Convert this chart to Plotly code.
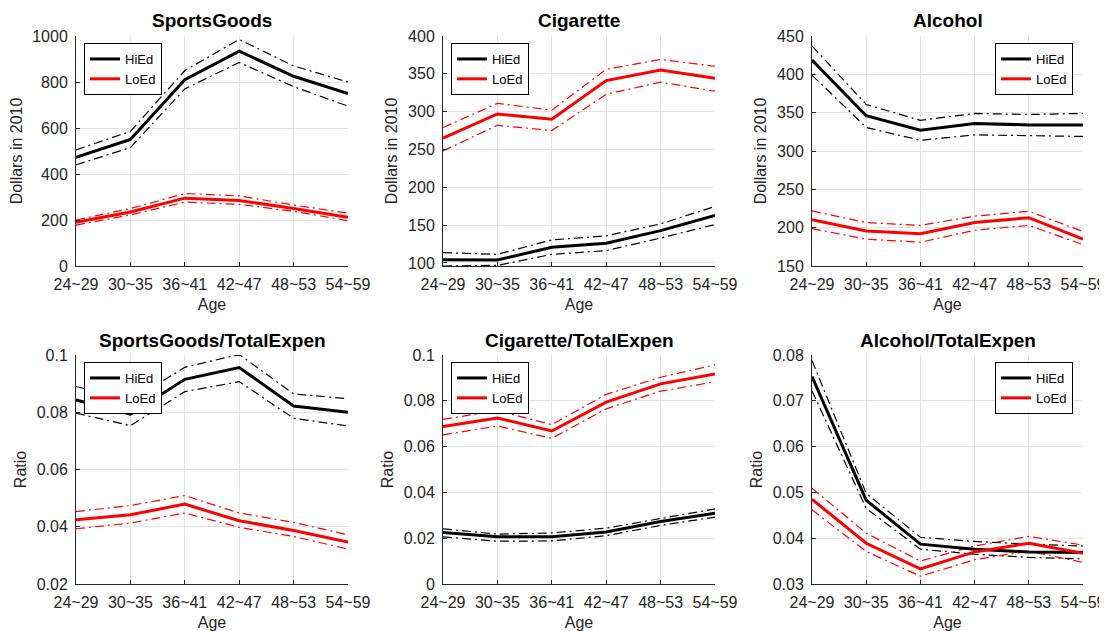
import plotly.graph_objects as go

ages = ["24~29", "30~35", "36~41", "42~47", "48~53", "54~59"]

# SportsGoods (dollars)
sg_hi_mean = [472, 550, 810, 934, 825, 750]
sg_hi_up = [505, 585, 850, 985, 870, 800]
sg_hi_lo = [440, 515, 770, 885, 780, 695]
sg_lo_mean = [190, 235, 295, 285, 250, 212]
sg_lo_up = [200, 250, 315, 305, 265, 230]
sg_lo_lo = [178, 222, 278, 268, 238, 197]

# Cigarette (dollars)
cg_hi_mean = [104.4, 104, 120.7, 126, 142.8, 162.7]
cg_hi_up = [113.7, 111.4, 130.5, 135.8, 151.7, 174.7]
cg_hi_lo = [96, 96.8, 111.4, 116.3, 133, 150.8]
cg_lo_mean = [265, 297, 290, 341, 355, 344]
cg_lo_up = [279, 311, 302, 356, 369, 360]
cg_lo_lo = [248, 282, 275, 323, 339, 327]

# Alcohol (dollars)
al_hi_mean = [418.6, 346, 327, 336, 334, 334]
al_hi_up = [437, 360.7, 340, 349, 347.6, 349]
al_hi_lo = [399, 330.7, 314, 321, 320, 319]
al_lo_mean = [210.5, 195.7, 192, 206.6, 213, 185]
al_lo_up = [221.8, 206.6, 203, 215, 221.4, 195]
al_lo_lo = [198.8, 185, 181, 196.6, 203, 177.9]

# SportsGoods / TotalExpen (ratio)
sgr_hi_mean = [0.0843, 0.0793, 0.0915, 0.0956, 0.0822, 0.0800]
sgr_hi_up = [0.0890, 0.0840, 0.0957, 0.1002, 0.0864, 0.0847]
sgr_hi_lo = [0.0797, 0.0753, 0.0872, 0.0907, 0.0779, 0.0752]
sgr_lo_mean = [0.0424, 0.0442, 0.0479, 0.0421, 0.0387, 0.0347]
sgr_lo_up = [0.0453, 0.0474, 0.0509, 0.0448, 0.0415, 0.0372]
sgr_lo_lo = [0.0393, 0.0413, 0.0448, 0.0398, 0.0366, 0.0322]

# Cigarette / TotalExpen (ratio)
cgr_hi_mean = [0.0225, 0.0206, 0.0206, 0.0227, 0.0273, 0.0309]
cgr_hi_up = [0.0241, 0.0218, 0.0223, 0.0244, 0.0286, 0.0328]
cgr_hi_lo = [0.0206, 0.0187, 0.0188, 0.0211, 0.0256, 0.0292]
cgr_lo_mean = [0.0688, 0.0725, 0.0668, 0.0794, 0.0874, 0.0917]
cgr_lo_up = [0.0719, 0.0757, 0.0696, 0.0828, 0.0903, 0.0957]
cgr_lo_lo = [0.0651, 0.0690, 0.0636, 0.0765, 0.0842, 0.0883]

# Alcohol / TotalExpen (ratio)
alr_hi_mean = [0.0753, 0.0483, 0.0387, 0.0376, 0.0370, 0.0369]
alr_hi_up = [0.0788, 0.0498, 0.0402, 0.0393, 0.0387, 0.0383]
alr_hi_lo = [0.0722, 0.0465, 0.0376, 0.0365, 0.0358, 0.0355]
alr_lo_mean = [0.0485, 0.0389, 0.0333, 0.0370, 0.0389, 0.0367]
alr_lo_up = [0.0509, 0.0411, 0.0350, 0.0383, 0.0404, 0.0385]
alr_lo_lo = [0.0462, 0.0371, 0.0317, 0.0353, 0.0372, 0.0347]

titles = ["SportsGoods", "Cigarette", "Alcohol",
          "SportsGoods/TotalExpen", "Cigarette/TotalExpen", "Alcohol/TotalExpen"]
ylabels = ["Dollars in 2010"] * 3 + ["Ratio"] * 3
panels = [
    (sg_hi_mean, sg_hi_up, sg_hi_lo, sg_lo_mean, sg_lo_up, sg_lo_lo),
    (cg_hi_mean, cg_hi_up, cg_hi_lo, cg_lo_mean, cg_lo_up, cg_lo_lo),
    (al_hi_mean, al_hi_up, al_hi_lo, al_lo_mean, al_lo_up, al_lo_lo),
    (sgr_hi_mean, sgr_hi_up, sgr_hi_lo, sgr_lo_mean, sgr_lo_up, sgr_lo_lo),
    (cgr_hi_mean, cgr_hi_up, cgr_hi_lo, cgr_lo_mean, cgr_lo_up, cgr_lo_lo),
    (alr_hi_mean, alr_hi_up, alr_hi_lo, alr_lo_mean, alr_lo_up, alr_lo_lo),
]
yranges = [[0, 1000], [96, 400], [150, 450], [0.02, 0.1], [0, 0.1], [0.03, 0.08]]
ydticks = [200, 50, 50, 0.02, 0.02, 0.01]
ytick0 = [0, 100, 150, 0.02, 0, 0.03]

# page body margin (8px) offsets the figure inside the 1107x631 window
OFF = 8
W, H = 1107 - OFF, 631 - OFF
xdoms_px = [(76, 348), (443, 715), (812, 1083)]   # window pixels
ydoms_px = [(36, 266), (355, 584)]
legend_pos = ["left", "left", "right", "left", "left", "right"]


def fx(px):
    return (px - OFF) / W


def fy(py):
    return 1 - (py - OFF) / H


FONT = "Liberation Sans, Arial, Helvetica, sans-serif"
AX = "#262626"
GRID = "#e3e3e3"
DASHDOT = "9px,4px,2px,4px"

fig = go.Figure()
layout = {}
annotations = []

for i, (hm, hu, hl, lm, lu, ll) in enumerate(panels):
    r, c = divmod(i, 3)
    xa = "x" if i == 0 else f"x{i+1}"
    ya = "y" if i == 0 else f"y{i+1}"
    leg = "legend" if i == 0 else f"legend{i+1}"
    for name, color, m, u, l in [("HiEd", "#000000", hm, hu, hl),
                                 ("LoEd", "#ff0000", lm, lu, ll)]:
        for vals in (u, l):
            fig.add_trace(go.Scatter(x=ages, y=vals, mode="lines", xaxis=xa, yaxis=ya,
                                     line=dict(color=color, width=1.2, dash=DASHDOT),
                                     showlegend=False, hoverinfo="skip"))
    for name, color, m in [("HiEd", "#000000", hm), ("LoEd", "#ff0000", lm)]:
        fig.add_trace(go.Scatter(x=ages, y=m, mode="lines", name=name, xaxis=xa, yaxis=ya,
                                 line=dict(color=color, width=3), legend=leg,
                                 showlegend=True))

    x0, x1 = xdoms_px[c]
    y0, y1 = ydoms_px[r]
    xkey = "xaxis" if i == 0 else f"xaxis{i+1}"
    ykey = "yaxis" if i == 0 else f"yaxis{i+1}"
    layout[xkey] = dict(
        domain=[fx(x0), fx(x1)], anchor=ya, type="category", range=[0, 5],
        automargin=False,
        showgrid=True, gridcolor=GRID, gridwidth=1,
        showline=True, linecolor=AX, linewidth=1, mirror=False,
        ticks="inside", ticklen=4, tickcolor=AX, ticklabelstandoff=4,
        tickfont=dict(family=FONT, size=16, color=AX),
        title=dict(text="Age", font=dict(family=FONT, size=16, color=AX), standoff=6),
        zeroline=False, fixedrange=True,
    )
    layout[ykey] = dict(
        domain=[fy(y1), fy(y0)], anchor=xa, range=yranges[i],
        automargin=False,
        tick0=ytick0[i], dtick=ydticks[i],
        showgrid=True, gridcolor=GRID, gridwidth=1,
        showline=True, linecolor=AX, linewidth=1, mirror=False,
        ticks="inside", ticklen=4, tickcolor=AX, ticklabelstandoff=4,
        tickfont=dict(family=FONT, size=16, color=AX),
        title=dict(text=ylabels[i], font=dict(family=FONT, size=16, color=AX), standoff=6),
        zeroline=False, fixedrange=True,
    )
    # panel title
    annotations.append(dict(
        text=f"<b>{titles[i]}</b>", x=fx((x0 + x1) / 2), y=fy(y0 - 15),
        xref="paper", yref="paper", xanchor="center", yanchor="middle",
        showarrow=False, font=dict(family=FONT, size=19, color="#000000")))
    if legend_pos[i] == "left":
        lx, lxa = fx(x0 + 8), "left"
    else:
        lx, lxa = fx(x1 - 10), "right"
    layout[leg] = dict(
        x=lx, xanchor=lxa, y=fy(y0 + 7), yanchor="top",
        bgcolor="white", bordercolor="#000000", borderwidth=1,
        font=dict(family=FONT, size=13, color="#000000"),
        tracegroupgap=0, itemwidth=30,
    )

fig.update_layout(
    width=W, height=H,
    margin=dict(l=0, r=0, t=0, b=0, autoexpand=False),
    paper_bgcolor="white", plot_bgcolor="white",
    annotations=annotations,
    font=dict(family=FONT, color=AX),
    **layout,
)

fig.write_html("out.html")
